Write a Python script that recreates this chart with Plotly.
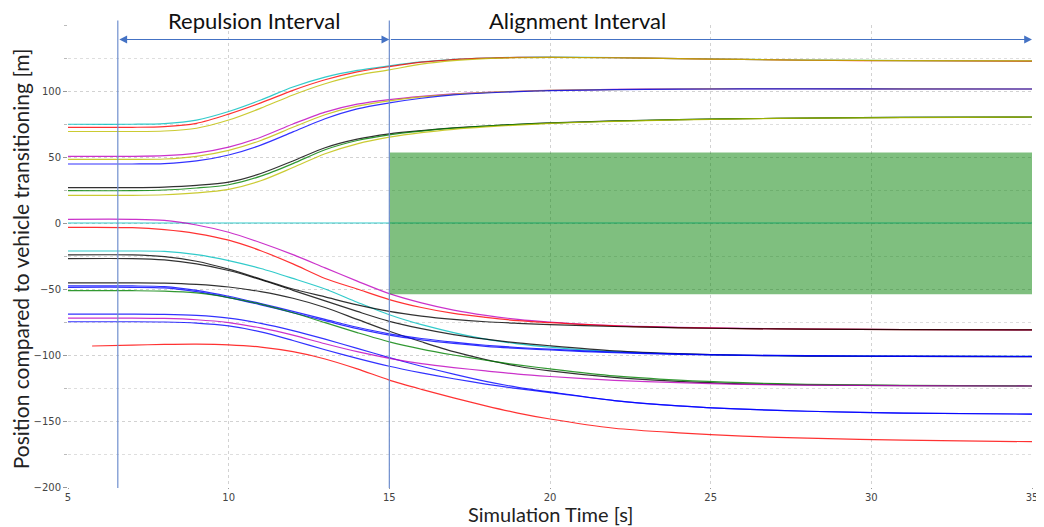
import plotly.graph_objects as go

# ---------------- data ----------------
T = [5, 7, 8, 9, 10, 11, 12, 13, 14, 15, 16, 17, 18, 19, 20, 22, 24, 26, 28, 31, 35]
T_LATE = [5.75, 7, 8, 9, 10, 11, 12, 13, 14, 15, 16, 17, 18, 19, 20, 22, 24, 26, 28, 31, 35]
T_ZERO = [5, 35]

# upper cluster converging to ~123
a_cyan = [74.8, 74.8, 75.3, 78.0, 84.5, 93.2, 103.0, 110.5, 115.6, 119.0, 122.0, 124.0, 125.0, 125.5, 125.6, 125.3, 124.6, 124.0, 123.4, 123.0, 122.7]
a_red = [72.5, 72.5, 73.0, 75.5, 82.5, 91.0, 100.5, 108.5, 114.5, 118.5, 121.8, 123.8, 124.9, 125.4, 125.5, 125.2, 124.5, 123.9, 123.3, 122.9, 122.6]
a_yellow = [69.3, 69.3, 69.7, 71.8, 78.0, 87.0, 97.0, 105.5, 112.0, 116.0, 120.3, 123.0, 124.5, 125.2, 125.4, 125.2, 124.5, 123.9, 123.4, 123.0, 122.8]
# cluster converging to ~101
b_magenta = [50.5, 50.5, 51.0, 53.0, 57.5, 65.0, 75.0, 84.0, 90.0, 93.5, 96.0, 97.8, 99.0, 99.8, 100.5, 101.2, 101.5, 101.7, 101.7, 101.6, 101.5]
b_yellow = [48.2, 48.2, 48.5, 50.5, 55.0, 62.5, 72.5, 82.0, 88.5, 92.5, 95.5, 97.5, 98.8, 99.7, 100.4, 101.1, 101.5, 101.7, 101.7, 101.6, 101.5]
b_blue = [44.7, 44.7, 45.0, 47.0, 51.5, 59.0, 69.0, 79.0, 86.5, 91.0, 94.5, 97.0, 98.5, 99.5, 100.3, 101.0, 101.4, 101.6, 101.6, 101.5, 101.5]
# cluster converging to ~80
c_dark = [26.8, 26.8, 27.2, 28.5, 31.0, 37.5, 47.0, 57.0, 63.5, 67.5, 70.0, 72.0, 73.5, 74.8, 75.8, 77.3, 78.3, 79.0, 79.5, 80.0, 80.3]
c_green = [24.5, 24.5, 25.0, 26.5, 29.0, 35.5, 45.0, 55.5, 62.5, 66.8, 69.6, 71.8, 73.4, 74.7, 75.7, 77.2, 78.3, 79.0, 79.5, 80.0, 80.3]
c_yellow = [21.0, 21.0, 21.4, 22.8, 25.5, 32.0, 42.0, 52.5, 60.0, 65.0, 68.5, 71.0, 72.8, 74.2, 75.4, 77.0, 78.1, 78.9, 79.4, 79.9, 80.3]
# vehicle being transitioned (reference line)
zero_line = [0, 0]
# lower vehicles
l_magenta = [2.8, 2.8, 2.0, -1.5, -7.0, -15.0, -24.0, -34.0, -44.0, -53.5, -60.5, -66.0, -70.0, -73.0, -75.0, -77.8, -79.0, -79.8, -80.3, -80.7, -81.0]
l_red = [-3.3, -3.5, -5.0, -8.0, -13.0, -21.0, -31.0, -42.0, -50.0, -58.0, -64.0, -68.5, -71.5, -74.0, -75.5, -78.0, -79.3, -80.0, -80.4, -80.8, -81.0]
l_cyan = [-21.2, -21.2, -21.5, -24.0, -28.5, -34.5, -42.0, -50.0, -60.0, -69.5, -77.0, -83.0, -88.0, -91.5, -94.0, -97.5, -99.3, -100.2, -100.7, -101.0, -101.0]
l_black1 = [-24.2, -24.2, -25.5, -29.0, -35.0, -42.5, -50.0, -56.0, -62.0, -67.0, -70.5, -73.0, -74.8, -76.0, -77.0, -78.4, -79.4, -80.0, -80.4, -80.8, -81.0]
l_black2 = [-27.0, -27.0, -28.0, -31.0, -36.0, -43.0, -51.0, -59.0, -67.0, -74.5, -80.0, -84.5, -88.0, -90.8, -93.0, -96.8, -99.0, -100.2, -100.8, -101.0, -101.2]
l_black3 = [-45.3, -45.3, -45.5, -46.5, -48.5, -52.0, -57.0, -64.0, -73.0, -82.0, -90.0, -97.5, -103.5, -108.5, -112.0, -117.0, -120.0, -121.8, -122.6, -123.2, -123.5]
l_blue1 = [-47.7, -47.7, -48.2, -51.0, -55.5, -61.0, -67.0, -73.0, -79.0, -84.0, -87.5, -90.3, -92.6, -94.3, -95.6, -97.8, -99.2, -100.0, -100.5, -100.9, -101.0]
l_blue2 = [-48.7, -48.7, -49.2, -52.0, -56.5, -62.0, -68.0, -74.0, -80.0, -85.0, -88.5, -91.2, -93.4, -95.0, -96.2, -98.3, -99.6, -100.3, -100.7, -101.0, -101.2]
l_green = [-51.3, -51.3, -51.6, -53.0, -56.5, -61.5, -68.0, -75.5, -83.0, -90.0, -95.5, -100.0, -104.0, -107.5, -110.5, -115.8, -119.0, -121.0, -122.2, -123.0, -123.5]
l_blue3 = [-69.0, -69.0, -69.2, -70.0, -72.0, -76.0, -81.5, -88.0, -95.0, -102.0, -108.5, -114.5, -120.0, -124.5, -128.0, -134.5, -138.5, -141.0, -142.6, -144.0, -144.8]
l_magenta2 = [-72.0, -72.0, -72.3, -73.3, -75.5, -79.5, -85.0, -91.5, -97.5, -102.5, -106.5, -109.5, -112.0, -114.5, -116.3, -119.2, -121.0, -122.2, -122.8, -123.2, -123.5]
l_blue4 = [-74.8, -74.8, -75.0, -75.8, -78.0, -82.5, -89.0, -96.0, -102.5, -108.5, -113.5, -118.0, -122.0, -125.5, -128.5, -134.5, -138.5, -141.0, -142.6, -144.0, -144.8]
l_red2 = [-93.2, -92.5, -92.0, -91.8, -92.3, -94.0, -97.5, -103.0, -110.5, -119.0, -126.0, -132.5, -138.5, -144.0, -148.5, -155.5, -159.0, -161.5, -163.0, -164.5, -165.7]

X_TICKS = [5, 10, 15, 20, 25, 30, 35]
Y_TICKS = [-200, -150, -100, -50, 0, 50, 100]
Y_MINOR = [-175, -125, -75, -25, 25, 75, 125, 150]

REPULSION_START = 6.55
ALIGN_START = 15
ALIGN_END = 35
SAFE_LOW, SAFE_HIGH = -54, 53.5
ARROW_Y = 139

C = {"c": "#00bfbf", "r": "#ff0000", "y": "#bfbf00", "m": "#bf00bf",
     "b": "#0000ff", "g": "#008000", "k": "#000000"}

series = [
    (T, a_cyan, "c"), (T, a_red, "r"), (T, a_yellow, "y"),
    (T, b_magenta, "m"), (T, b_yellow, "y"), (T, b_blue, "b"),
    (T, c_dark, "k"), (T, c_green, "g"), (T, c_yellow, "y"),
    (T_ZERO, zero_line, "c"),
    (T, l_magenta, "m"), (T, l_red, "r"), (T, l_cyan, "c"),
    (T, l_black1, "k"), (T, l_black2, "k"), (T, l_black3, "k"),
    (T, l_blue1, "b"), (T, l_blue2, "b"), (T, l_green, "g"),
    (T, l_blue3, "b"), (T, l_magenta2, "m"), (T, l_blue4, "b"),
    (T_LATE, l_red2, "r"),
]

fig = go.Figure()
for xs, ys, col in series:
    fig.add_trace(go.Scatter(x=xs, y=ys, mode="lines",
                             line=dict(color=C[col], width=1.2, shape="spline", smoothing=0.8),
                             opacity=0.8, hoverinfo="skip"))

grid = dict(showgrid=True, gridcolor="#d2d2d2", griddash="dot", gridwidth=1)

# the page body adds an 8px margin, so the figure is offset by 8px in the window
fig.update_layout(
    width=1036, height=519,
    margin=dict(l=60, r=12, t=17, b=40, autoexpand=False),
    plot_bgcolor="white", paper_bgcolor="white",
    showlegend=False,
    font=dict(family="DejaVu Sans", size=10, color="#444"),
    xaxis=dict(range=[5, 35], tickmode="array", tickvals=X_TICKS,
               ticks="outside", ticklen=1, tickcolor="#999", automargin=False,
               zeroline=False, showline=False, **grid),
    yaxis=dict(range=[-200, 150], tickmode="array", tickvals=Y_TICKS,
               ticks="outside", ticklen=4, tickcolor="#999", automargin=False,
               zeroline=False, showline=False, **grid,
               minor=dict(tickmode="array", tickvals=Y_MINOR, ticks="outside", ticklen=3,
                          tickcolor="#bbb", showgrid=True, gridcolor="#dedede", griddash="dot")),
)

# axis titles
fig.add_annotation(xref="paper", yref="paper", x=0.5, y=-0.0585, text="Simulation Time [s]",
                   showarrow=False, font=dict(family="Lato", size=20, color="#222"),
                   xanchor="center", yanchor="middle")
fig.add_annotation(xref="paper", yref="paper", x=-0.0498, y=0.495,
                   text="Position compared to vehicle transitioning [m]", textangle=-90,
                   showarrow=False, font=dict(family="Lato", size=21, color="#222"),
                   xanchor="center", yanchor="middle")

# safe zone and interval markers
fig.add_shape(type="rect", xref="x", yref="y", x0=ALIGN_START, x1=ALIGN_END,
              y0=SAFE_LOW, y1=SAFE_HIGH, fillcolor="rgba(0,128,0,0.5)",
              line=dict(width=0), layer="above")
for xv in (REPULSION_START, ALIGN_START):
    fig.add_shape(type="line", xref="x", yref="paper", x0=xv, x1=xv, y0=-0.002, y1=1.01,
                  line=dict(color="#6f8fce", width=1.2), layer="above")

arrow_common = dict(xref="x", yref="y", axref="x", ayref="y", text="", showarrow=True,
                    arrowcolor="#4472c4", arrowwidth=1.2, arrowsize=1.3)
fig.add_annotation(x=ALIGN_START, y=ARROW_Y, ax=REPULSION_START, ay=ARROW_Y,
                   arrowhead=2, startarrowhead=2, arrowside="end+start", **arrow_common)
fig.add_annotation(x=ALIGN_END, y=ARROW_Y, ax=ALIGN_START, ay=ARROW_Y,
                   arrowhead=2, arrowside="end", **arrow_common)

label_font = dict(family="Lato", size=22, color="#111")
fig.add_annotation(x=10.8, y=1.009, xref="x", yref="paper", text="Repulsion Interval",
                   showarrow=False, font=label_font, yanchor="middle")
fig.add_annotation(x=20.85, y=1.009, xref="x", yref="paper", text="Alignment Interval",
                   showarrow=False, font=label_font, yanchor="middle")

fig.write_html("out.html")
